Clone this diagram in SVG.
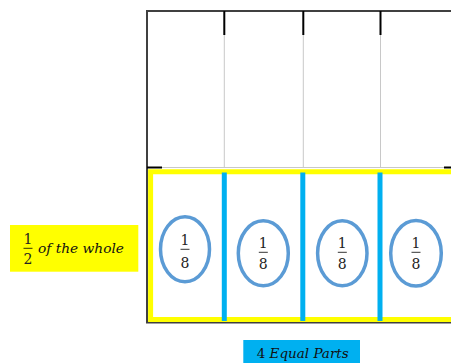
<svg xmlns="http://www.w3.org/2000/svg" width="451" height="363" viewBox="0 0 451 363">
<style>
.grid{stroke:#c8c8c8;stroke-width:1;fill:none}
.tick{stroke:#000;stroke-width:2}
.div{stroke:#00B0F0;stroke-width:5}
.oval{fill:#fff;stroke:#5B9BD5;stroke-width:3.5}
.num{font-family:"DejaVu Serif","Liberation Serif",serif;font-size:14px;fill:#222;text-anchor:middle}
.it{font-family:"DejaVu Serif","Liberation Serif",serif;font-style:italic;fill:#111}
.fl{stroke:#000;stroke-width:0.8}
</style>
<rect width="451" height="363" fill="#fff"/>
<g id="whole">
<path d="M451 11 H147 V322.5 H451" fill="none" stroke="#404040" stroke-width="2"/>
<line class="grid" x1="224.3" y1="11" x2="224.3" y2="168"/>
<line class="grid" x1="303.3" y1="11" x2="303.3" y2="168"/>
<line class="grid" x1="380.5" y1="11" x2="380.5" y2="168"/>
<line class="grid" x1="147" y1="167.5" x2="451" y2="167.5"/>
<line class="tick" x1="224.3" y1="11" x2="224.3" y2="35"/>
<line class="tick" x1="303.3" y1="11" x2="303.3" y2="35" stroke="#707070"/>
<line class="tick" x1="380.5" y1="11" x2="380.5" y2="35"/>
<line class="tick" x1="147" y1="167.5" x2="162" y2="167.5"/>
<line class="tick" x1="444" y1="167.5" x2="451" y2="167.5"/>
</g>
<g id="half">
<path d="M453 171.8 H150.6 V319.6 H453" fill="none" stroke="#FFFF00" stroke-width="5"/>
</g>
<g id="connectors">
<line class="div" x1="224.3" y1="172.5" x2="224.3" y2="321"/>
<line class="div" x1="302.8" y1="172.5" x2="302.8" y2="321"/>
<line class="div" x1="380" y1="172.5" x2="380" y2="321"/>
</g>
<g id="part1">
<ellipse class="oval" cx="185" cy="249.3" rx="24.5" ry="32.5"/>
<text class="num" x="185" y="244.5">1</text>
<line class="fl" x1="180.5" y1="249.3" x2="189.5" y2="249.3"/>
<text class="num" x="185" y="267.5">8</text>
</g>
<g id="part2">
<ellipse class="oval" cx="263.3" cy="253.3" rx="25" ry="32.5"/>
<text class="num" x="263.3" y="247.5">1</text>
<line class="fl" x1="258.8" y1="252.3" x2="267.8" y2="252.3"/>
<text class="num" x="263.3" y="268.5">8</text>
</g>
<g id="part3">
<ellipse class="oval" cx="342.3" cy="253.3" rx="24.7" ry="32.5"/>
<text class="num" x="342.3" y="247.5">1</text>
<line class="fl" x1="337.8" y1="252.3" x2="346.8" y2="252.3"/>
<text class="num" x="342.3" y="268.5">8</text>
</g>
<g id="part4">
<ellipse class="oval" cx="416" cy="253.3" rx="25.3" ry="32.8"/>
<text class="num" x="416" y="247.5">1</text>
<line class="fl" x1="411.5" y1="252.3" x2="420.5" y2="252.3"/>
<text class="num" x="416" y="268.5">8</text>
</g>
<g id="label-half">
<rect x="10" y="225" width="128.3" height="46.7" fill="#FFFF00"/>
<text class="num" x="28" y="243.5">1</text>
<line class="fl" x1="23.5" y1="248.3" x2="32.5" y2="248.3"/>
<text class="num" x="28" y="263.5">2</text>
<text class="it" x="38" y="252.7" font-size="13.5" textLength="86" lengthAdjust="spacingAndGlyphs">of the whole</text>
</g>
<g id="label-parts">
<rect x="243.3" y="340" width="116.7" height="23" fill="#00B0F0"/>
<text x="256.7" y="358.3" font-family="DejaVu Serif, Liberation Serif, serif" font-size="13.5" fill="#111" textLength="92" lengthAdjust="spacingAndGlyphs">4 <tspan font-style="italic">Equal Parts</tspan></text>
</g>
</svg>
